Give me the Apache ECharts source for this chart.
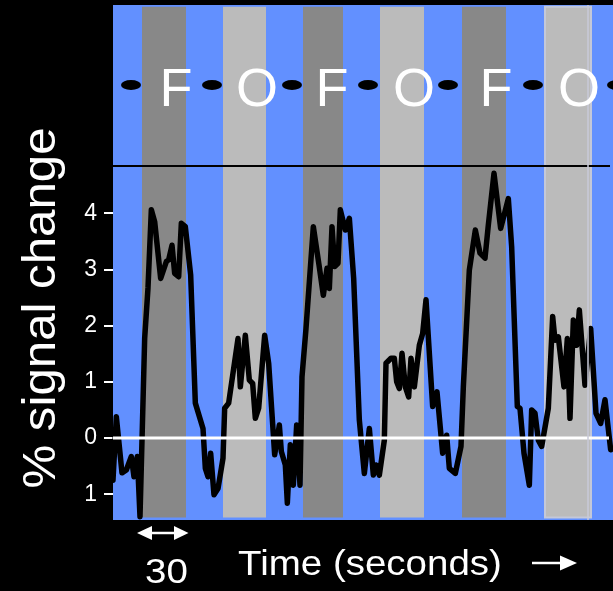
<!DOCTYPE html>
<html>
<head>
<meta charset="utf-8">
<script src="https://cdn.jsdelivr.net/npm/echarts@6/dist/echarts.min.js"></script>
<style>
html,body{margin:0;padding:0;background:#000;}
#chart{width:613px;height:591px;}
</style>
</head>
<body>
<div id="chart"></div>
<script>
// ---- data ----
var timeSec = [0,2.0,5.4,8.0,11.0,12.6,14.6,16.2,19.0,21.0,23.0,25.0,28.6,32.0,33.4,35.4,37.0,39.4,41.0,43.4,46.6,49.4,54.0,55.4,57.0,58.6,60.6,63.0,66.0,67.0,69.4,75.0,76.4,79.4,81.8,83.8,85.4,87.4,91.0,93.4,97.0,99.8,101.0,103.4,104.6,106.4,108.2,110.2,112.2,113.4,115.8,120.2,123.6,126.2,128.4,129.8,131.4,133.0,135.0,136.4,139.4,141.8,144.4,147.8,150.8,153.8,156.2,157.8,159.8,162.8,163.8,166.8,168.8,170.2,171.8,173.4,175.4,177.4,178.8,180.8,183.8,185.8,187.8,191.8,194.4,197.8,200.2,201.8,205.4,208.8,210.2,213.8,217.4,220.2,223.2,225.2,228.6,232.6,237.2,239.2,242.6,244.2,246.6,249.8,251.2,253.2,255.2,257.2,261.2,263.8,265.2,267.2,270.6,272.6,274.2,276.2,278.2,279.8,283.2,286.6,289.8,292.6,295.2,298.6];
var signalPct = [-0.75,0.38,-0.62,-0.57,-0.33,-0.69,-0.33,-1.40,1.77,2.67,4.06,3.85,2.84,3.14,3.17,3.43,2.93,2.87,3.82,3.76,2.90,0.62,0.17,-0.54,-0.69,-0.27,-1.01,-0.90,-0.36,0.53,0.62,1.77,0.91,1.83,1.03,0.97,0.35,0.53,1.83,1.33,-0.30,0.23,-0.24,-0.48,-1.16,-0.12,-0.84,0.23,-0.84,1.09,1.95,3.76,3.08,2.54,3.02,2.66,3.76,3.05,3.11,4.06,3.70,3.91,2.84,0.32,-0.63,0.17,-0.66,-0.48,-0.66,-0.04,1.33,1.42,1.42,1.00,0.88,1.51,0.91,0.73,1.42,0.91,1.65,1.86,2.46,0.56,0.82,-0.27,0.05,-0.54,-0.63,-0.15,0.91,2.99,3.70,3.29,3.20,3.79,4.71,3.73,4.26,3.40,0.56,0.53,-0.27,-0.84,0.50,0.44,-0.04,-0.15,0.53,2.16,1.74,1.80,0.91,1.77,0.35,2.10,1.65,2.28,0.94,1.95,0.44,0.26,0.68,-0.21];

var blockStart = [17.4, 66.0, 114.0, 160.2, 209.4, 259.2];
var blockEnd   = [43.8, 91.8, 138.0, 186.6, 235.8, 286.8];
var blockType  = ['F','O','F','O','F','O'];

var letterTime = [37.8, 86.4, 131.4, 180.6, 229.8, 279.6];
var dotTime    = [10.8, 59.4, 107.4, 153.0, 201.0, 252.0, 302.4];

var yTicks = [-1, 0, 1, 2, 3, 4];

// ---- layout constants ----
var Y_MIN = -1.459, Y_MAX = 7.705;
var BAR_TOP = 7.674, BAR_BOT = -1.415;
var DIVIDER_Y = 4.84, LETTER_Y = 6.165, DOT_Y = 6.28;
var X_END = 298.2;

var BLUE = '#6290ff', DARK = '#888888', LIGHT = '#bbbbbb';
var FONT = '"Liberation Sans", Arial, sans-serif';

var blockData = blockStart.map(function(s,i){ return [s, blockEnd[i], blockType[i]==='F'?0:1, i]; });

var chart = echarts.init(document.getElementById('chart'));
chart.setOption({
  backgroundColor: '#000',
  animation: false,
  grid: { left: 113, right: 0, top: 5, bottom: 71, show: true, backgroundColor: BLUE, borderWidth: 0 },
  xAxis: { type: 'value', min: 0, max: 300, show: false },
  yAxis: {
    type: 'value', min: Y_MIN, max: Y_MAX,
    axisLine: { show: false },
    splitLine: { show: false },
    axisTick: { show: true, customValues: yTicks, length: 9, lineStyle: { color: '#fff', width: 2 } },
    axisLabel: { show: true, customValues: yTicks, margin: 16, color: '#fff', fontSize: 23, fontFamily: FONT,
      formatter: function(v){ return String(Math.abs(Math.round(v))); } }
  },
  series: [
    {
      type: 'custom', z: 1, silent: true,
      data: blockData,
      renderItem: function(params, api){
        var p0 = api.coord([api.value(0), BAR_TOP]);
        var p1 = api.coord([api.value(1), BAR_BOT]);
        var isO = api.value(2) === 1;
        var last = api.value(3) === blockStart.length - 1;
        return {
          type: 'rect',
          shape: { x: p0[0], y: p0[1], width: p1[0]-p0[0], height: p1[1]-p0[1] },
          style: { fill: isO ? LIGHT : DARK, stroke: last ? '#c4c8d8' : null, lineWidth: last ? 2 : 0 }
        };
      },
      markLine: {
        silent: true, symbol: 'none', label: { show: false },
        lineStyle: { color: '#c8cad8', width: 1.5, type: 'solid' },
        data: [{ xAxis: 284.6 }]
      }
    },
    {
      type: 'line', z: 3, symbol: 'none', silent: true,
      data: timeSec.map(function(t,i){ return [t, signalPct[i]]; }),
      lineStyle: { color: '#000', width: 5.5, join: 'round', cap: 'round', opacity: 1 }
    },
    {
      type: 'line', z: 4, symbol: 'none', silent: true,
      data: [[0, 0], [X_END - 0.6, 0]],
      lineStyle: { color: '#fff', width: 3, opacity: 1 }
    },
    {
      type: 'line', z: 4, symbol: 'none', silent: true,
      data: [[0, DIVIDER_Y], [X_END, DIVIDER_Y]],
      lineStyle: { color: '#000', width: 2.2, opacity: 1 }
    },
    {
      type: 'scatter', z: 5, silent: true, clip: false,
      symbol: 'circle', symbolSize: [20, 10],
      itemStyle: { color: '#000', opacity: 1 },
      data: dotTime.map(function(t){ return [t, DOT_Y]; })
    },
    {
      type: 'scatter', z: 5, silent: true, clip: false,
      symbolSize: 0,
      itemStyle: { opacity: 1 },
      data: letterTime.map(function(t,i){ return { value: [t, LETTER_Y], name: blockType[i] }; }),
      label: { show: true, position: 'inside', formatter: '{b}', color: '#ffffff', opacity: 1, fontSize: 54, fontFamily: FONT }
    }
  ],
  graphic: [
    { type: 'text', x: 42.5, y: 308, rotation: Math.PI/2, scaleX: 1.07,
      style: { text: '% signal change', fill: '#fff', font: '46px ' + FONT, textAlign: 'center', textVerticalAlign: 'middle' } },
    { type: 'text', x: 370, y: 565, scaleX: 1.1,
      style: { text: 'Time (seconds)', fill: '#fff', font: '35px ' + FONT, textAlign: 'center', textVerticalAlign: 'middle' } },
    { type: 'text', x: 166.5, y: 573, scaleX: 1.1,
      style: { text: '30', fill: '#fff', font: '35px ' + FONT, textAlign: 'center', textVerticalAlign: 'middle' } },
    { type: 'line', shape: { x1: 149, y1: 533, x2: 176, y2: 533 }, style: { stroke: '#fff', lineWidth: 2.5 } },
    { type: 'polygon', shape: { points: [[137,533],[152,526],[152,540]] }, style: { fill: '#fff' } },
    { type: 'polygon', shape: { points: [[188.5,533],[174,526],[174,540]] }, style: { fill: '#fff' } },
    { type: 'line', shape: { x1: 532, y1: 563, x2: 562, y2: 563 }, style: { stroke: '#fff', lineWidth: 2.5 } },
    { type: 'polygon', shape: { points: [[577,563],[560,555.5],[560,570.5]] }, style: { fill: '#fff' } }
  ]
});
</script>
</body>
</html>
